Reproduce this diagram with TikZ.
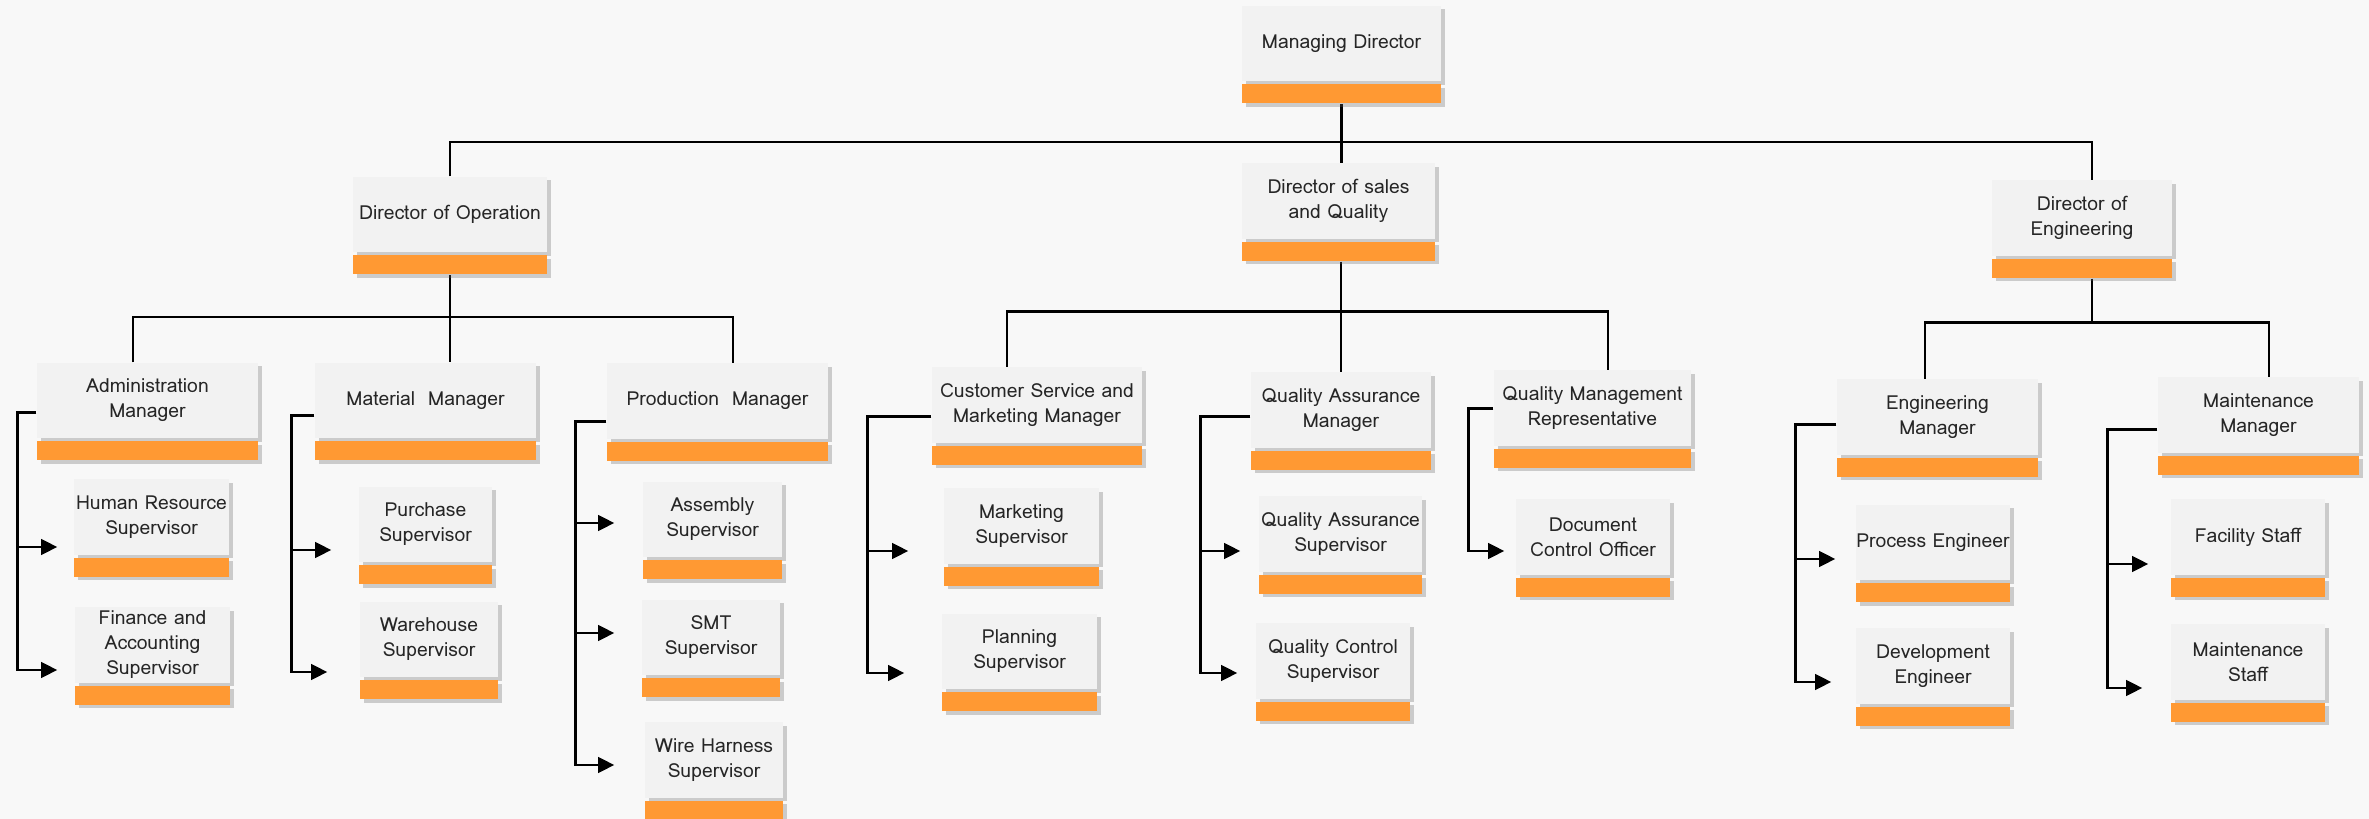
\documentclass[tikz,border=0pt]{standalone}
\usepackage{fontspec}
\setmainfont{Loma}
\usetikzlibrary{arrows.meta, calc, shadows}
\definecolor{cardgray}{RGB}{242,242,242}
\definecolor{barorange}{RGB}{255,153,51}
\definecolor{paper}{RGB}{248,248,248}
\pgfdeclarelayer{back}
\pgfdeclarelayer{wires}
\pgfsetlayers{back,wires,main}

\begin{document}
\begin{tikzpicture}[x=0.01cm, y=-0.01cm,
  card/.style={fill=cardgray, inner sep=0pt, minimum height=0.75cm, align=center,
    font=\fontsize{5.5}{7.1}\selectfont, text=black!85,
    drop shadow={shadow xshift=0.035cm, shadow yshift=-0.035cm, fill=black!60, opacity=0.3}},
  band/.style={fill=barorange, inner sep=0pt, minimum height=0.19cm, anchor=north,
    drop shadow={shadow xshift=0.035cm, shadow yshift=-0.035cm, fill=black!60, opacity=0.3}},
  link/.style={line width=0.75pt},
  feed/.style={line width=0.85pt, -{Triangle[length=4.6pt, width=4.4pt]}},
]
  % Page
  \useasboundingbox (0,0) rectangle (2369,819);
  \begin{pgfonlayer}{back}
    \fill[paper] (0,0) rectangle (2369,819);
  \end{pgfonlayer}

  % Boxes: name / centre x / centre y / width / arrow gap / arrow drop / text
  \foreach \id/\cx/\cy/\w/\gap/\dy/\txt in {
    md/1341.5/43.5/199/0/0/{Managing Director},
    dop/450/214.5/194/0/0/{Director of Operation},
    dsq/1338.5/201/193/0/0/{Director of sales\\and Quality},
    deng/2082/218/180/0/0/{Director of\\Engineering},
    adm/147.5/400.5/221/0/0/{Administration\\Manager},
    mat/425.5/400.5/221/0/0/{Material\ \ Manager},
    prod/717.5/401/221/0/0/{Production\ \ Manager},
    csm/1037/405/210/0/0/{Customer Service and\\Marketing Manager},
    qam/1341/410/180/0/0/{Quality Assurance\\Manager},
    qmr/1592.5/408/197/0/0/{Quality Management\\Representative},
    engm/1937.5/417/201/0/0/{Engineering\\Manager},
    mntm/2258.5/415/201/0/0/{Maintenance\\Manager},
    hr/151.5/517/155/16/30/{Human Resource\\Supervisor},
    fin/152.5/645/155/17/25/{Finance and\\Accounting\\Supervisor},
    pur/425.5/524.5/133/27/25.5/{Purchase\\Supervisor},
    wh/429/639.5/138/32/32.5/{Warehouse\\Supervisor},
    asm/712.5/519.5/139/28/3.5/{Assembly\\Supervisor},
    smt/711/637.5/138/27/-4.5/{SMT\\Supervisor},
    wire/714/760/138/30/5/{Wire Harness\\Supervisor},
    mkt/1021.5/526/155/35/25/{Marketing\\Supervisor},
    pln/1019.5/651.5/155/37/21.5/{Planning\\Supervisor},
    qas/1340.5/534/163/18/17/{Quality Assurance\\Supervisor},
    qcs/1333/661/154/18/12/{Quality Control\\Supervisor},
    doc/1593/537/154/11/14/{Document\\Control Officer},
    pe/1933/542.5/154/20/16.5/{Process Engineer},
    de/1933/666/154/24/16/{Development\\Engineer},
    fac/2248/537/154/22/27/{Facility Staff},
    ms/2248/662/154/28/26/{Maintenance\\Staff}} {
    \node[card, minimum width=\w*0.01cm] (\id) at (\cx,\cy) {\txt};
    \node[band, minimum width=\w*0.01cm] (\id-b) at ($(\id.south)+(0,2)$) {};
    \coordinate (\id-in) at ($(\id.west)+(-\gap,\dy)$);
  }

  \begin{pgfonlayer}{wires}
    % Managing Director to directors
    \coordinate (topbus) at ($(md-b.south)+(0,38)$);
    \draw[link] (dop.north) |- (topbus) -| ($(deng.north)+(10,0)$);
    \draw[link] (md-b.south) -- (md-b.south |- dsq.north);

    % Operation
    \coordinate (opbus) at ($(dop-b.south)+(0,42)$);
    \draw[link] ($(adm.north)+(-14.5,0)$) |- (opbus) -| ($(prod.north)+(15.5,0)$);
    \draw[link] (dop-b.south) -- (dop-b.south |- mat.north);

    % Sales and Quality
    \coordinate (sqbus) at ($(dsq-b.south)+(2.5,50)$);
    \draw[link] ($(csm.north)+(-30,0)$) |- (sqbus) -| ($(qmr.north)+(15.5,0)$);
    \draw[link] (qam.north |- dsq-b.south) -- (qam.north);

    % Engineering
    \coordinate (engbus) at ($(deng-b.south)+(10,44)$);
    \draw[link] ($(engm.north)+(-12.5,0)$) |- (engbus) -| ($(mntm.north)+(10.5,0)$);
    \draw[link] ($(deng-b.south)+(10,0)$) -- (engbus);

    % Managers to supervisors
    \draw[feed] ($(adm.west)+(0,12.5)$) -- ++(-19,0) coordinate (adm-k) |- (fin-in);
    \draw[feed] (adm-k |- hr-in) -- (hr-in);

    \draw[feed] ($(mat.west)+(0,15.5)$) -- ++(-23,0) coordinate (mat-k) |- (wh-in);
    \draw[feed] (mat-k |- pur-in) -- (pur-in);

    \draw[feed] ($(prod.west)+(0,21)$) -- ++(-31,0) coordinate (prod-k) |- (wire-in);
    \draw[feed] (prod-k |- asm-in) -- (asm-in);
    \draw[feed] (prod-k |- smt-in) -- (smt-in);

    \draw[feed] ($(csm.west)+(0,12)$) -- ++(-64,0) coordinate (csm-k) |- (pln-in);
    \draw[feed] (csm-k |- mkt-in) -- (mkt-in);

    \draw[feed] ($(qam.west)+(0,7)$) -- ++(-50,0) coordinate (qam-k) |- (qcs-in);
    \draw[feed] (qam-k |- qas-in) -- (qas-in);

    \draw[feed] ($(qmr.west)+(0,1)$) -- ++(-25,0) |- (doc-in);

    \draw[feed] ($(engm.west)+(0,8)$) -- ++(-41,0) coordinate (engm-k) |- (de-in);
    \draw[feed] (engm-k |- pe-in) -- (pe-in);

    \draw[feed] ($(mntm.west)+(0,15)$) -- ++(-50,0) coordinate (mntm-k) |- (ms-in);
    \draw[feed] (mntm-k |- fac-in) -- (fac-in);
  \end{pgfonlayer}
\end{tikzpicture}
\end{document}
